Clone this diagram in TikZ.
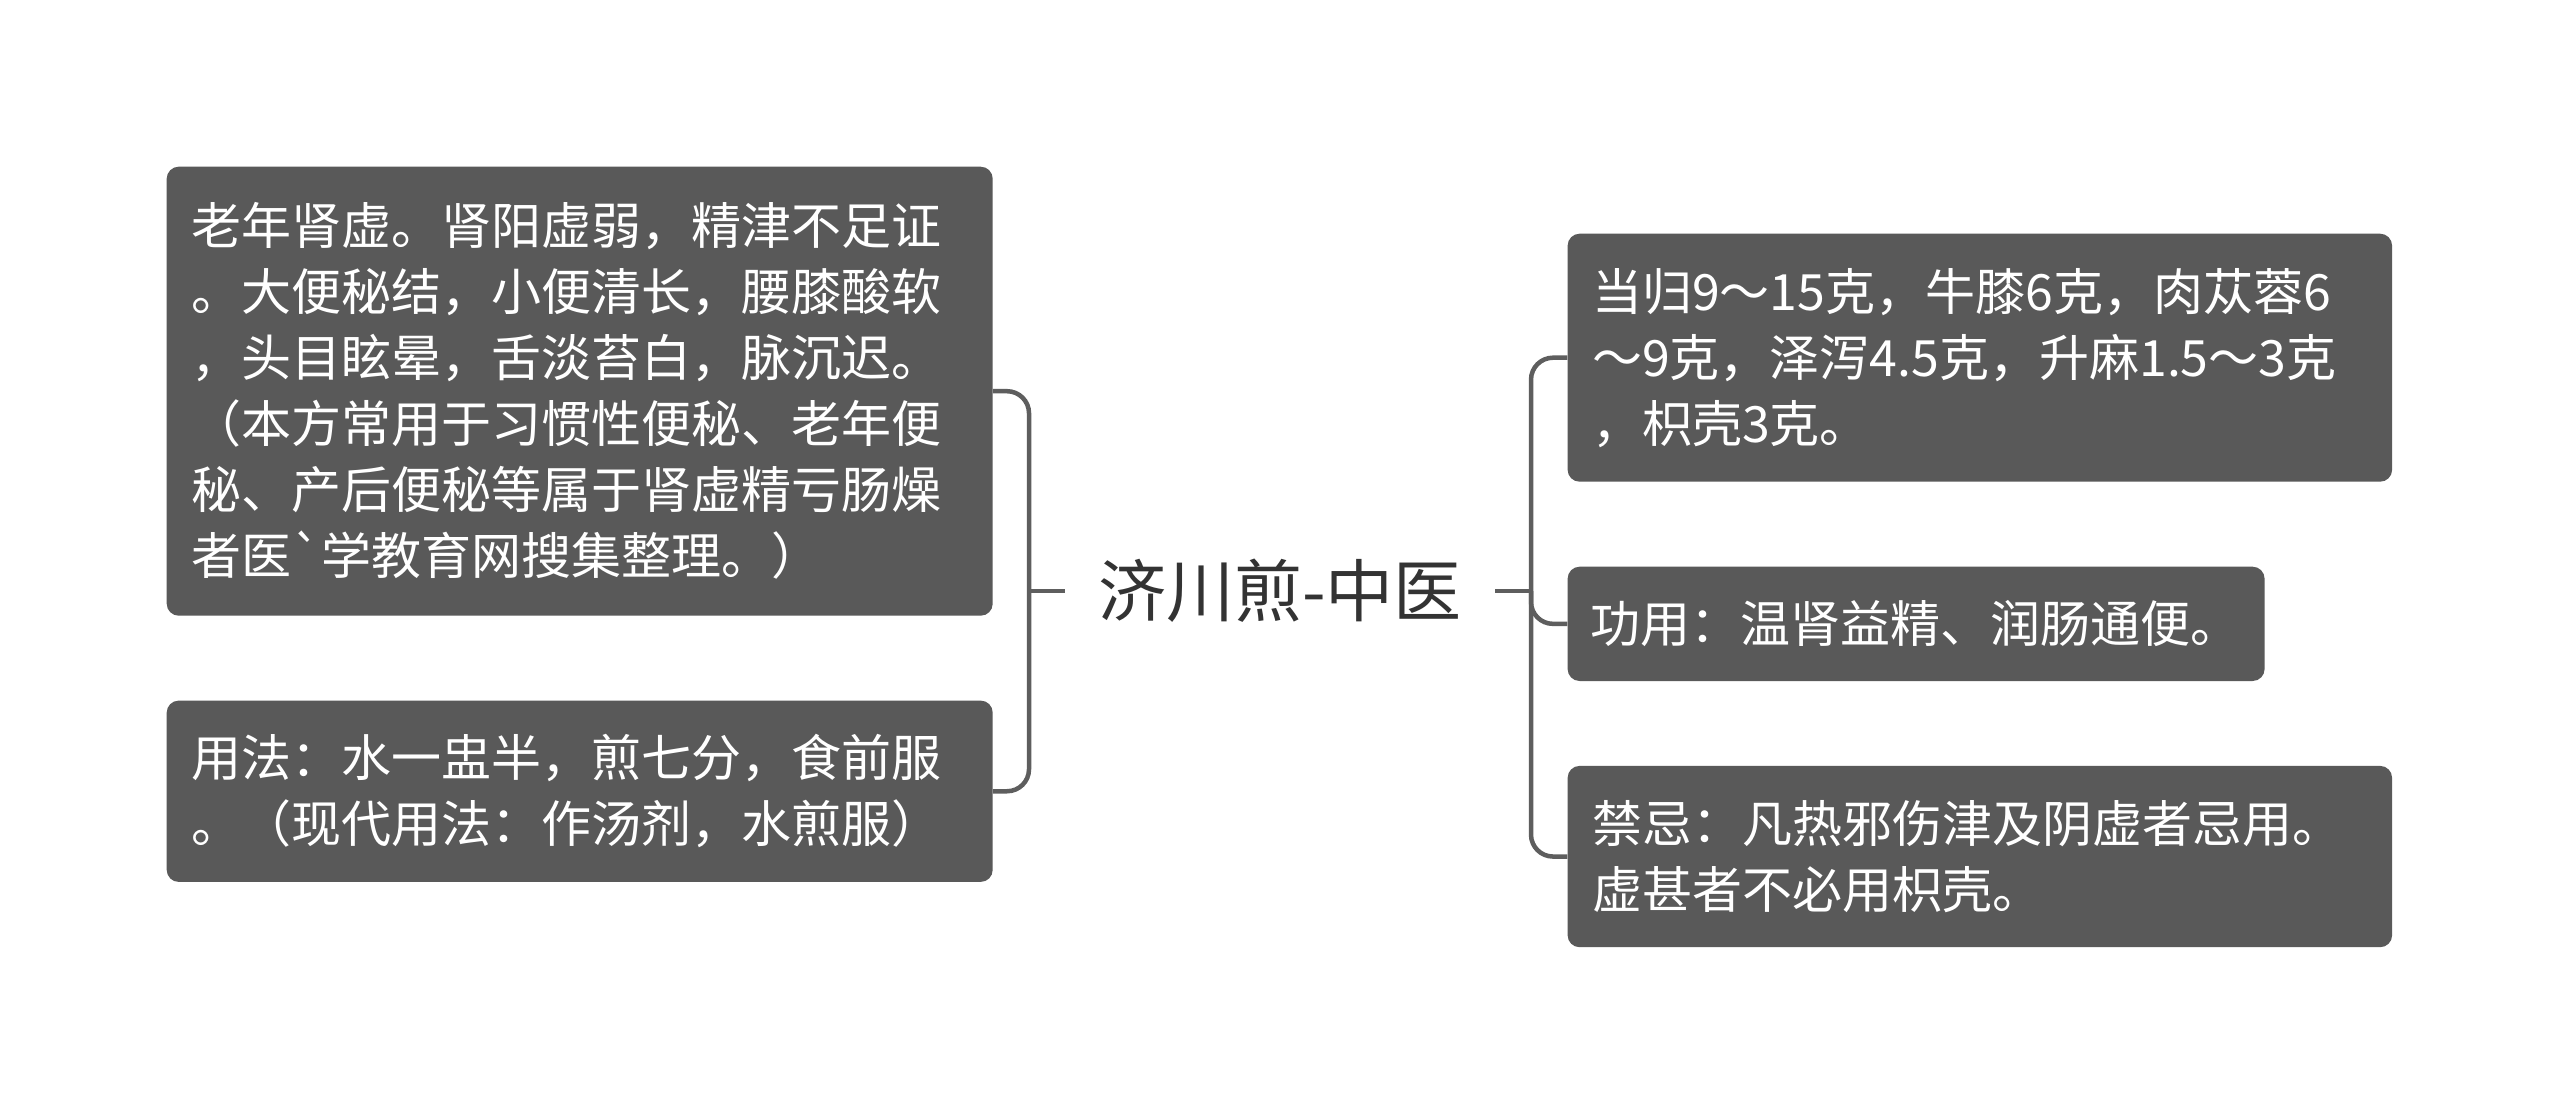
\documentclass[tikz,border=0pt]{standalone}
\usepackage{fontspec}
\setmainfont{Noto Sans CJK SC}[Ligatures=TeXOff]
\definecolor{boxgray}{HTML}{595959}
\definecolor{linegray}{HTML}{5E5E5E}
\definecolor{titlec}{HTML}{333333}
\tikzset{
  leaf/.style={fill=boxgray, rounded corners=12pt, text=white, anchor=north west,
    align=left, inner xsep=24.5pt, inner ysep=0pt, font=\fontsize{50}{66}\selectfont},
  conn/.style={draw=linegray, line width=4.5pt, rounded corners=22pt},
}
\begin{document}
\begin{tikzpicture}[x=1pt,y=-1pt]
\useasboundingbox[fill=white] (0,0) rectangle (2560,1116);
\node[leaf, text width=777pt, minimum height=449pt] (L1) at (166.5,166.5)
  {老年肾虚。肾阳虚弱，精津不足证\\。大便秘结，小便清长，腰膝酸软\\，头目眩晕，舌淡苔白，脉沉迟。\\（本方常用于习惯性便秘、老年便\\秘、产后便秘等属于肾虚精亏肠燥\\者医`学教育网搜集整理。）};
\node[leaf, text width=777pt, minimum height=181.3pt] (L2) at (166.5,700.4)
  {用法：水一盅半，煎七分，食前服\\。（现代用法：作汤剂，水煎服）};
\node[leaf, text width=775.5pt, minimum height=248pt] (R1) at (1567.4,233.5)
  {当归9～15克，牛膝6克，肉苁蓉6\\～9克，泽泻4.5克，升麻1.5～3克\\，枳壳3克。};
\node[leaf, inner xsep=23pt, text width=651pt, minimum height=114.3pt] (R2) at (1567.4,566.5)
  {功用：温肾益精、润肠通便。};
\node[leaf, text width=775.5pt, minimum height=181.3pt] (R3) at (1567.4,765.7)
  {禁忌：凡热邪伤津及阴虚者忌用。\\虚甚者不必用枳壳。};
\node[font=\fontsize{68}{80}\selectfont, text=titlec, minimum width=430pt, inner sep=0pt] (C) at (1280,591) {济川煎-中医};
\coordinate (lb) at (1029,591);
\coordinate (rb) at (1531,591);
\draw[conn] (L1.east) -| (lb) |- (L2.east);
\draw[conn] (lb) -- (C.west);
\draw[conn] (R1.west) -| (rb) |- (R3.west);
\draw[conn] (C.east) -- (rb);
\draw[conn] (rb) |- (R2.west);
\end{tikzpicture}
\end{document}
